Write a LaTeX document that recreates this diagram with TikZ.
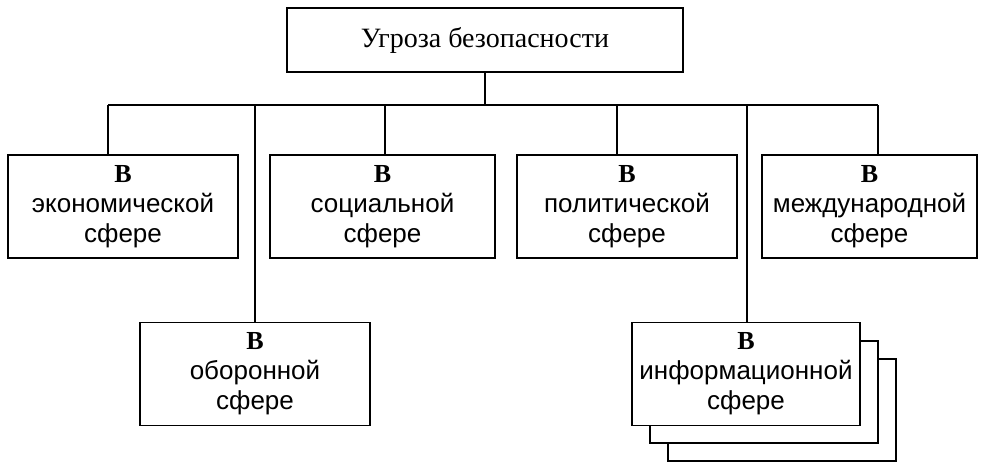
\documentclass[tikz,border=0pt]{standalone}
\usepackage{fontspec}
\setmainfont{Liberation Serif}
\newfontfamily\boxfont{Liberation Sans}
\tikzset{
  sphere/.style = {draw, minimum width=#1, minimum height=103pt, align=center,
    font=\boxfont\fontsize{26}{30}\selectfont, inner sep=0pt},
  head/.style = {draw, minimum width=396pt, minimum height=64pt,
    font=\fontsize{28}{32}\selectfont}
}
\newcommand{\Bline}{{\rmfamily\bfseries В}}
\begin{document}
\begin{tikzpicture}[x=1pt,y=-1pt,line width=1.6pt]
  \useasboundingbox (0,0) rectangle (982,464);
  \node[head] (top) at (485,40) {Угроза безопасности};
  \coordinate (bus) at (485,105);
  \draw (top.south) -- (bus);
  \draw (108,105) -- (878,105);
  \node[sphere=230pt] (econ) at (123,206.5) {\Bline\\экономической\\сфере};
  \node[sphere=225pt] (soc) at (382.5,206.5) {\Bline\\социальной\\сфере};
  \node[sphere=220pt] (pol) at (627,206.5) {\Bline\\политической\\сфере};
  \node[sphere=215pt] (intl) at (869.5,206.5) {\Bline\\международной\\сфере};
  \node[sphere=230pt] (def) at (255,374) {\Bline\\оборонной\\сфере};
  \begin{scope}[shift={(36,36)}]
    \draw[fill=white] (632,323) rectangle (860,425);
  \end{scope}
  \begin{scope}[shift={(18,18)}]
    \draw[fill=white] (632,323) rectangle (860,425);
  \end{scope}
  \node[sphere=228pt, fill=white] (info) at (746,374) {\Bline\\информационной\\сфере};
  \foreach \n/\x in {econ/108, soc/385, pol/617, intl/878, def/255, info/747} {
    \coordinate (drop) at (\x,105);
    \draw (drop) -- (drop |- \n.north);
  }
\end{tikzpicture}
\end{document}
